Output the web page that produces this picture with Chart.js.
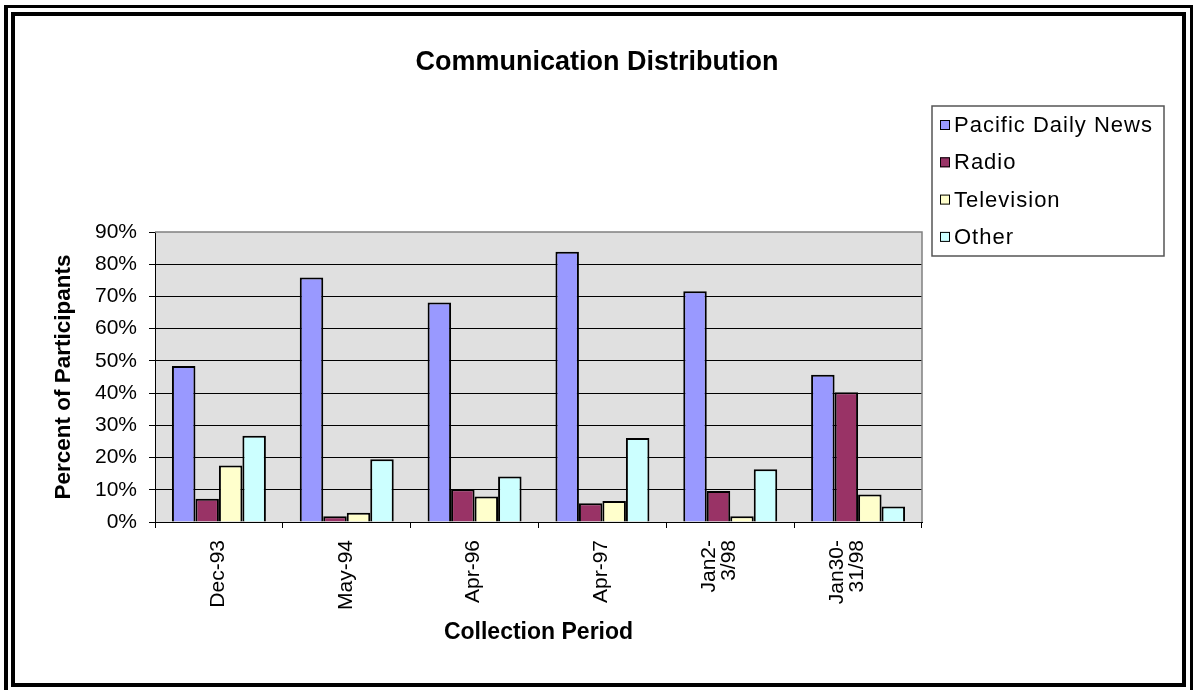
<!DOCTYPE html>
<html>
<head>
<meta charset="utf-8">
<title>Communication Distribution</title>
<script src="https://cdn.jsdelivr.net/npm/chart.js@4.4.1/dist/chart.umd.min.js"></script>
<style>
    html, body { margin: 0; padding: 0; background: #fff; overflow: hidden; }
    .frame { position: absolute; border: solid #000; box-sizing: border-box; }
    #outerFrame { left: 4px; top: 5px; width: 1189px; height: 700px; border-width: 3px 3px 3px 4px; }
    #innerFrame { left: 11px; top: 12px; width: 1175px; height: 675px; border-width: 4px 4px 4px 4px; }
    #wrap { position: absolute; left: 0; top: 0; width: 1193px; height: 690px; }
</style>
</head>
<body>
<div id="outerFrame" class="frame"></div>
<div id="innerFrame" class="frame"></div>
<div id="wrap"><canvas id="commChart"></canvas></div>
<script>
// collection periods (multi-line where the label wraps)
const periods = [['Dec-93'], ['May-94'], ['Apr-96'], ['Apr-97'], ['Jan2-', '3/98'], ['Jan30-', '31/98']];

// percent of participants per source
const pacificDailyNews = [48.4, 75.9, 68.1, 83.9, 71.6, 45.7];
const radio            = [7.2, 1.8, 10.2, 5.8, 9.6, 40.3];
const television       = [17.5, 2.9, 7.9, 6.5, 1.8, 8.5];
const other            = [26.8, 19.5, 14.1, 26.1, 16.4, 4.8];

const yMin = 0, yMax = 90, yStep = 10;
const chartTitle = 'Communication Distribution';

const FONT = '"Liberation Sans", Arial, sans-serif';
Chart.defaults.font.family = FONT;
Chart.defaults.color = '#000';

// grey plot area behind the grid, grey frame on top and right
const plotBackground = {
    id: 'plotBackground',
    beforeDraw(chart) {
        const a = chart.chartArea, ctx = chart.ctx;
        ctx.save();
        ctx.fillStyle = '#e0e0e0';
        ctx.fillRect(a.left, a.top, a.right - a.left, a.bottom - a.top);
        ctx.restore();
    },
    afterDatasetsDraw(chart) {
        const a = chart.chartArea, ctx = chart.ctx;
        ctx.save();
        ctx.strokeStyle = '#808080';
        ctx.lineWidth = 1.5;
        ctx.beginPath();
        ctx.moveTo(a.left, a.top);
        ctx.lineTo(a.right, a.top);
        ctx.lineTo(a.right, a.bottom);
        ctx.stroke();
        ctx.restore();
    }
};

// title centred on the whole page
const pageTitle = {
    id: 'pageTitle',
    afterDraw(chart) {
        const ctx = chart.ctx;
        ctx.save();
        ctx.font = 'bold 27px ' + FONT;
        ctx.fillStyle = '#000';
        ctx.textAlign = 'center';
        ctx.textBaseline = 'middle';
        ctx.fillText(chartTitle, 597, 63);
        ctx.restore();
    }
};

// rotated category labels; the last line sits on the category centre
const periodLabels = {
    id: 'periodLabels',
    afterDraw(chart) {
        const xs = chart.scales.x, ctx = chart.ctx;
        const lh = 20;
        ctx.save();
        ctx.font = '21px ' + FONT;
        ctx.fillStyle = '#000';
        ctx.textAlign = 'right';
        ctx.textBaseline = 'middle';
        chart.data.labels.forEach((lines, i) => {
            const px = xs.getPixelForTick(i);
            lines.forEach((t, k) => {
                const x = px - (lines.length - 1 - k) * lh - 1;
                ctx.save();
                ctx.translate(x, xs.top + 18);
                ctx.rotate(-Math.PI / 2);
                ctx.fillText(t, 0, 0);
                ctx.restore();
            });
        });
        ctx.restore();
    }
};

// boxed legend at the top right
const legendBox = {
    id: 'legendBox',
    afterDraw(chart) {
        const ctx = chart.ctx;
        const box = { left: 932, top: 106, right: 1164, bottom: 256 };
        ctx.save();
        ctx.fillStyle = '#fff';
        ctx.fillRect(box.left, box.top, box.right - box.left, box.bottom - box.top);
        ctx.strokeStyle = '#555';
        ctx.lineWidth = 1.5;
        ctx.strokeRect(box.left, box.top, box.right - box.left, box.bottom - box.top);
        ctx.font = '22px ' + FONT;
        ctx.letterSpacing = '1px';
        ctx.textAlign = 'left';
        ctx.textBaseline = 'middle';
        chart.data.datasets.forEach((ds, i) => {
            const y = 125 + i * 37.3;
            ctx.fillStyle = ds.backgroundColor;
            ctx.fillRect(940, y - 5, 10, 10);
            ctx.strokeStyle = '#000';
            ctx.lineWidth = 1;
            ctx.strokeRect(940.5, y - 4.5, 9, 9);
            ctx.fillStyle = '#000';
            ctx.fillText(ds.label, 954, y + 1);
        });
        ctx.restore();
    }
};

const makeSet = (label, data, color) => ({
    label: label,
    data: data,
    backgroundColor: color,
    borderColor: '#000',
    borderWidth: 2,
    borderSkipped: 'bottom',
    barPercentage: 1.0,
    categoryPercentage: 0.735
});

new Chart(document.getElementById('commChart'), {
    type: 'bar',
    data: {
        labels: periods,
        datasets: [
            makeSet('Pacific Daily News', pacificDailyNews, '#9999ff'),
            makeSet('Radio', radio, '#993366'),
            makeSet('Television', television, '#ffffcc'),
            makeSet('Other', other, '#ccffff')
        ]
    },
    options: {
        responsive: true,
        maintainAspectRatio: false,
        animation: false,
        layout: { padding: { left: 20, right: 271, top: 232, bottom: 28 } },
        plugins: {
            legend: { display: false },
            tooltip: { enabled: false },
            title: { display: false }
        },
        scales: {
            x: {
                offset: true,
                grid: {
                    offset: true,
                    drawOnChartArea: false,
                    drawTicks: true,
                    tickLength: 6,
                    color: '#000'
                },
                border: { display: true, color: '#000', width: 1 },
                ticks: { display: false },
                title: {
                    display: true,
                    text: 'Collection Period',
                    color: '#000',
                    font: { size: 23, weight: 'bold', lineHeight: 1.2 },
                    padding: { top: 0, bottom: 16 }
                },
                afterFit(scale) { scale.height = 140; }
            },
            y: {
                min: yMin,
                max: yMax,
                grid: {
                    color: ctx => (ctx.tick && ctx.tick.value === yMax) ? 'rgba(0,0,0,0)' : '#000',
                    tickColor: '#000',
                    lineWidth: 1,
                    drawTicks: true,
                    tickLength: 6
                },
                border: { display: true, color: '#000', width: 1 },
                ticks: {
                    stepSize: yStep,
                    padding: 12,
                    color: '#000',
                    font: { size: 21 },
                    callback: v => v + '%'
                },
                title: {
                    display: true,
                    text: 'Percent of Participants',
                    color: '#000',
                    font: { size: 22.5, weight: 'bold', lineHeight: 1.2 },
                    padding: { top: 30, bottom: 0 }
                },
                afterFit(scale) { scale.width = 135; }
            }
        }
    },
    plugins: [plotBackground, periodLabels, legendBox, pageTitle]
});
</script>
</body>
</html>
